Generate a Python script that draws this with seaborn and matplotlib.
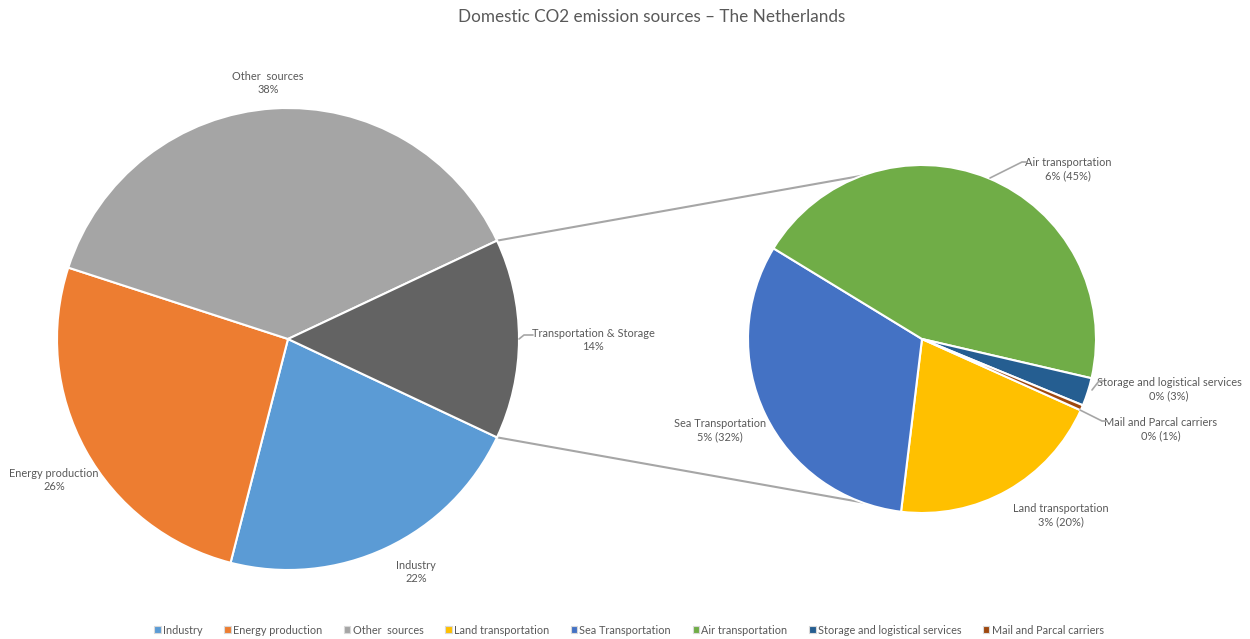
import numpy as np
import matplotlib
matplotlib.use("Agg")
import matplotlib.pyplot as plt
from matplotlib.patches import Patch
import seaborn as sns

# ---------------- data ----------------
main_categories = ["Industry", "Energy production", "Other  sources", "Transportation & Storage"]
main_values = [22, 26, 38, 14]
main_labels = ["22%", "26%", "38%", "14%"]

sub_categories = ["Land transportation", "Sea Transportation", "Air transportation",
                  "Storage and logistical services", "Mail and Parcal carriers"]
sub_values = [20.2, 31.8, 44.9, 2.6, 0.5]
sub_labels = ["3% (20%)", "5% (32%)", "6% (45%)", "0% (3%)", "0% (1%)"]

title = "Domestic CO2 emission sources \u2013 The Netherlands"

# ---------------- style ----------------
sns.set_theme(style="white")
plt.rcParams["font.family"] = ["Lato", "DejaVu Sans"]

main_colors = ["#5B9BD5", "#ED7D31", "#A5A5A5", "#636363"]
sub_colors = ["#FFC000", "#4472C4", "#70AD47", "#255E91", "#9E480E"]
txt_color = "#595959"
line_color = "#A6A6A6"

W, H = 1250, 639
fig = plt.figure(figsize=(W / 100, H / 100), dpi=100)
ax = fig.add_axes([0, 0, 1, 1])

c1 = (288, H - 339); r1 = 231
c2 = (922, H - 339); r2 = 174

wp = dict(edgecolor="white", linewidth=1.5)
ax.pie(main_values, colors=main_colors, startangle=-25.2, counterclock=False,
       center=c1, radius=r1, wedgeprops=wp)
ax.pie(sub_values, colors=sub_colors, startangle=-24.2, counterclock=False,
       center=c2, radius=r2, wedgeprops=wp)

# connector lines from the "Transportation & Storage" wedge to the second pie
half = 360 * main_values[3] / sum(main_values) / 2
for sgn in (1, -1):
    a = np.deg2rad(sgn * half)
    x0, y0 = c1[0] + r1 * np.cos(a), c1[1] + r1 * np.sin(a)
    ax.plot([x0, c2[0]], [y0, c2[1] + sgn * r2], color=line_color, lw=1.5, zorder=0.5)

ax.set_xlim(0, W)
ax.set_ylim(0, H)
ax.set_aspect("equal")
ax.axis("off")

fs = 7.9
def lab(x, y, s):
    ax.text(x, H - y, s, ha="center", va="center", fontsize=fs, color=txt_color,
            linespacing=1.3)

def leader(pts):
    xs = [p[0] for p in pts]; ys = [H - p[1] for p in pts]
    ax.plot(xs, ys, color=line_color, lw=1.2, zorder=3)

# main pie labels
lab(268, 83, main_categories[2] + "\n" + main_labels[2])
lab(593, 340, main_categories[3] + "\n" + main_labels[3])
leader([(519, 339), (524, 335), (533, 335)])
lab(416, 572, main_categories[0] + "\n" + main_labels[0])
lab(54, 480, main_categories[1] + "\n" + main_labels[1])

# sub pie labels
lab(1068, 169, sub_categories[2] + "\n" + sub_labels[2])
leader([(990, 178), (1022, 162), (1027, 162)])
lab(1169, 389, sub_categories[3] + "\n" + sub_labels[3])
leader([(1092, 390), (1099, 381), (1103, 381)])
lab(1161, 429, sub_categories[4] + "\n" + sub_labels[4])
leader([(1080, 410), (1102, 421), (1107, 421)])
lab(1061, 515, sub_categories[0] + "\n" + sub_labels[0])
lab(720, 430, sub_categories[1] + "\n" + sub_labels[1])

# title
ax.text(652, H - 17, title, ha="center", va="center", fontsize=12.3, color=txt_color)

# legend
handles = [Patch(facecolor=c, edgecolor="#D9D9D9", linewidth=0.8)
           for c in main_colors[:3] + sub_colors]
names = main_categories[:3] + sub_categories
fig.legend(handles, names, loc="center", bbox_to_anchor=(629 / W, 1 - 630 / H),
           ncol=8, frameon=False, fontsize=7.8, labelcolor=txt_color,
           handlelength=0.6, handleheight=0.6, handletextpad=0.2, columnspacing=2.0)

fig.savefig("out.png", dpi=100)
